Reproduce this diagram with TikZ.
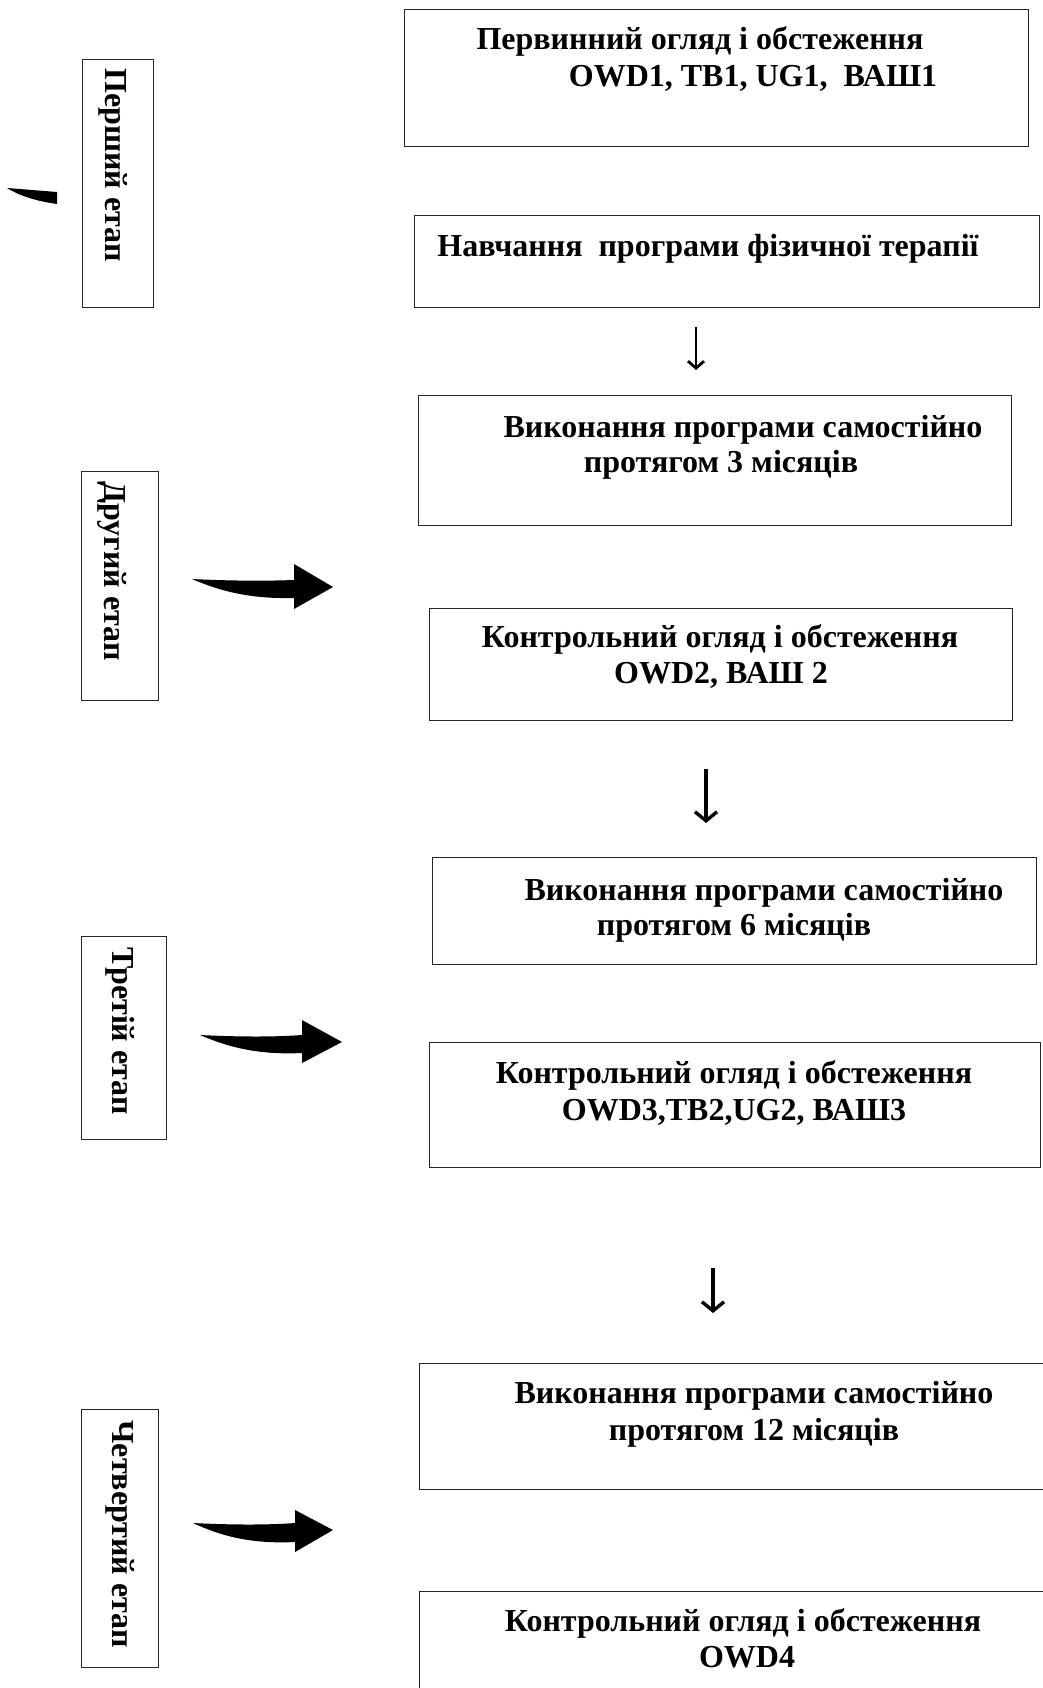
\documentclass[tikz,border=0pt]{standalone}
\usepackage{fontspec}
\setmainfont{Liberation Serif}
\usetikzlibrary{arrows.meta}
\begin{document}
\begin{tikzpicture}[x=1pt,y=-1pt,
  box/.style={draw=black!85,line width=1.3pt,rectangle,inner sep=0pt,anchor=north west},
  txt/.style={font=\bfseries\fontsize{32}{38}\selectfont,inner sep=0pt,anchor=base},
  lbl/.style={font=\bfseries\fontsize{32}{38}\selectfont,rotate=-90,inner sep=0pt},
  downarrA/.style={line width=2.8pt,-{Straight Barb[length=7pt,width=16pt]}},
  downarrB/.style={line width=3.4pt,-{Straight Barb[length=9pt,width=22pt]}},
  blk/.style={fill=black}]
\clip (0,0) rectangle (1043,1688);
\fill[white] (0,0) rectangle (1043,1688);

% right-hand boxes
\node[box,minimum width=624pt,minimum height=137pt] (b1) at (404,9) {};
\node[box,minimum width=625pt,minimum height=92pt] (b2) at (414,215) {};
\node[box,minimum width=593pt,minimum height=130pt] (b3) at (418,395) {};
\node[box,minimum width=583pt,minimum height=112pt] (b4) at (429,608) {};
\node[box,minimum width=604pt,minimum height=107pt] (b5) at (432,857) {};
\node[box,minimum width=611pt,minimum height=125pt] (b6) at (429,1042) {};
\node[box,minimum width=640pt,minimum height=126pt] (b7) at (419,1363) {};
\node[box,minimum width=640pt,minimum height=120pt] (b8) at (419,1591) {};

% texts
\node[txt] (t1a) at (700,50) {Первинний огляд і обстеження};
\node[txt] (t1b) at (753,87) {OWD1, ТВ1, UG1,\ \ ВАШ1};
\node[txt] (t2) at (708,257) {Навчання\ \ програми фізичної терапії};
\node[txt] (t3a) at (743,437) {Виконання програми самостійно};
\node[txt] (t3b) at (721,472) {протягом 3 місяців};
\node[txt] (t4a) at (720,647) {Контрольний огляд і обстеження};
\node[txt] (t4b) at (721,683) {OWD2, ВАШ 2};
\node[txt] (t5a) at (764,900) {Виконання програми самостійно};
\node[txt] (t5b) at (734,935) {протягом 6 місяців};
\node[txt] (t6a) at (734,1083) {Контрольний огляд і обстеження};
\node[txt] (t6b) at (734,1120) {OWD3,ТВ2,UG2, ВАШ3};
\node[txt] (t7a) at (754,1403) {Виконання програми самостійно};
\node[txt] (t7b) at (754,1440) {протягом 12 місяців};
\node[txt] (t8a) at (743,1631) {Контрольний огляд і обстеження};
\node[txt] (t8b) at (747,1667) {OWD4};

% stage labels
\node[box,minimum width=71pt,minimum height=248pt] (l1) at (82,59) {};
\node[box,minimum width=77pt,minimum height=229pt] (l2) at (81,471) {};
\node[box,minimum width=85pt,minimum height=203pt] (l3) at (81,936) {};
\node[box,minimum width=77pt,minimum height=258pt] (l4) at (81,1409) {};
\node[lbl] (l1t) at (113,165) {Перший етап};
\node[lbl] (l2t) at (112,571) {Другий етап};
\node[lbl] (l3t) at (120,1031) {Третій етап};
\node[lbl] (l4t) at (120,1534) {Четвертий етап};

% down arrows
\coordinate (d1s) at (696,327);
\coordinate (d1e) at (696,370);
\draw[downarrA] (d1s) -- (d1e);
\coordinate (d2s) at (706,769);
\coordinate (d2e) at (706,823);
\draw[downarrB] (d2s) -- (d2e);
\coordinate (d3s) at (713,1268);
\coordinate (d3e) at (713,1313);
\draw[downarrB] (d3s) -- (d3e);

% curved block arrows
\fill[blk] (7,188) -- (57,192) -- (57,204) .. controls (35,201) and (18,195) .. cycle;
\fill[blk,shift={(192,579)}] (0,0) .. controls (40,2) and (75,2) .. (102,1) -- (102,-15) -- (141,8) -- (102,30) -- (102,19) .. controls (60,20) and (30,13) .. cycle;
\fill[blk,shift={(200,1035)}] (0,0) .. controls (40,2) and (75,2) .. (102,0) -- (102,-15) -- (142,7) -- (102,28) -- (102,18) .. controls (60,20) and (30,13) .. cycle;
\fill[blk,shift={(193,1523)}] (0,0) .. controls (40,2) and (75,2) .. (102,0) -- (102,-13) -- (140,7) -- (102,29) -- (102,19) .. controls (60,21) and (30,14) .. cycle;
\end{tikzpicture}
\end{document}
